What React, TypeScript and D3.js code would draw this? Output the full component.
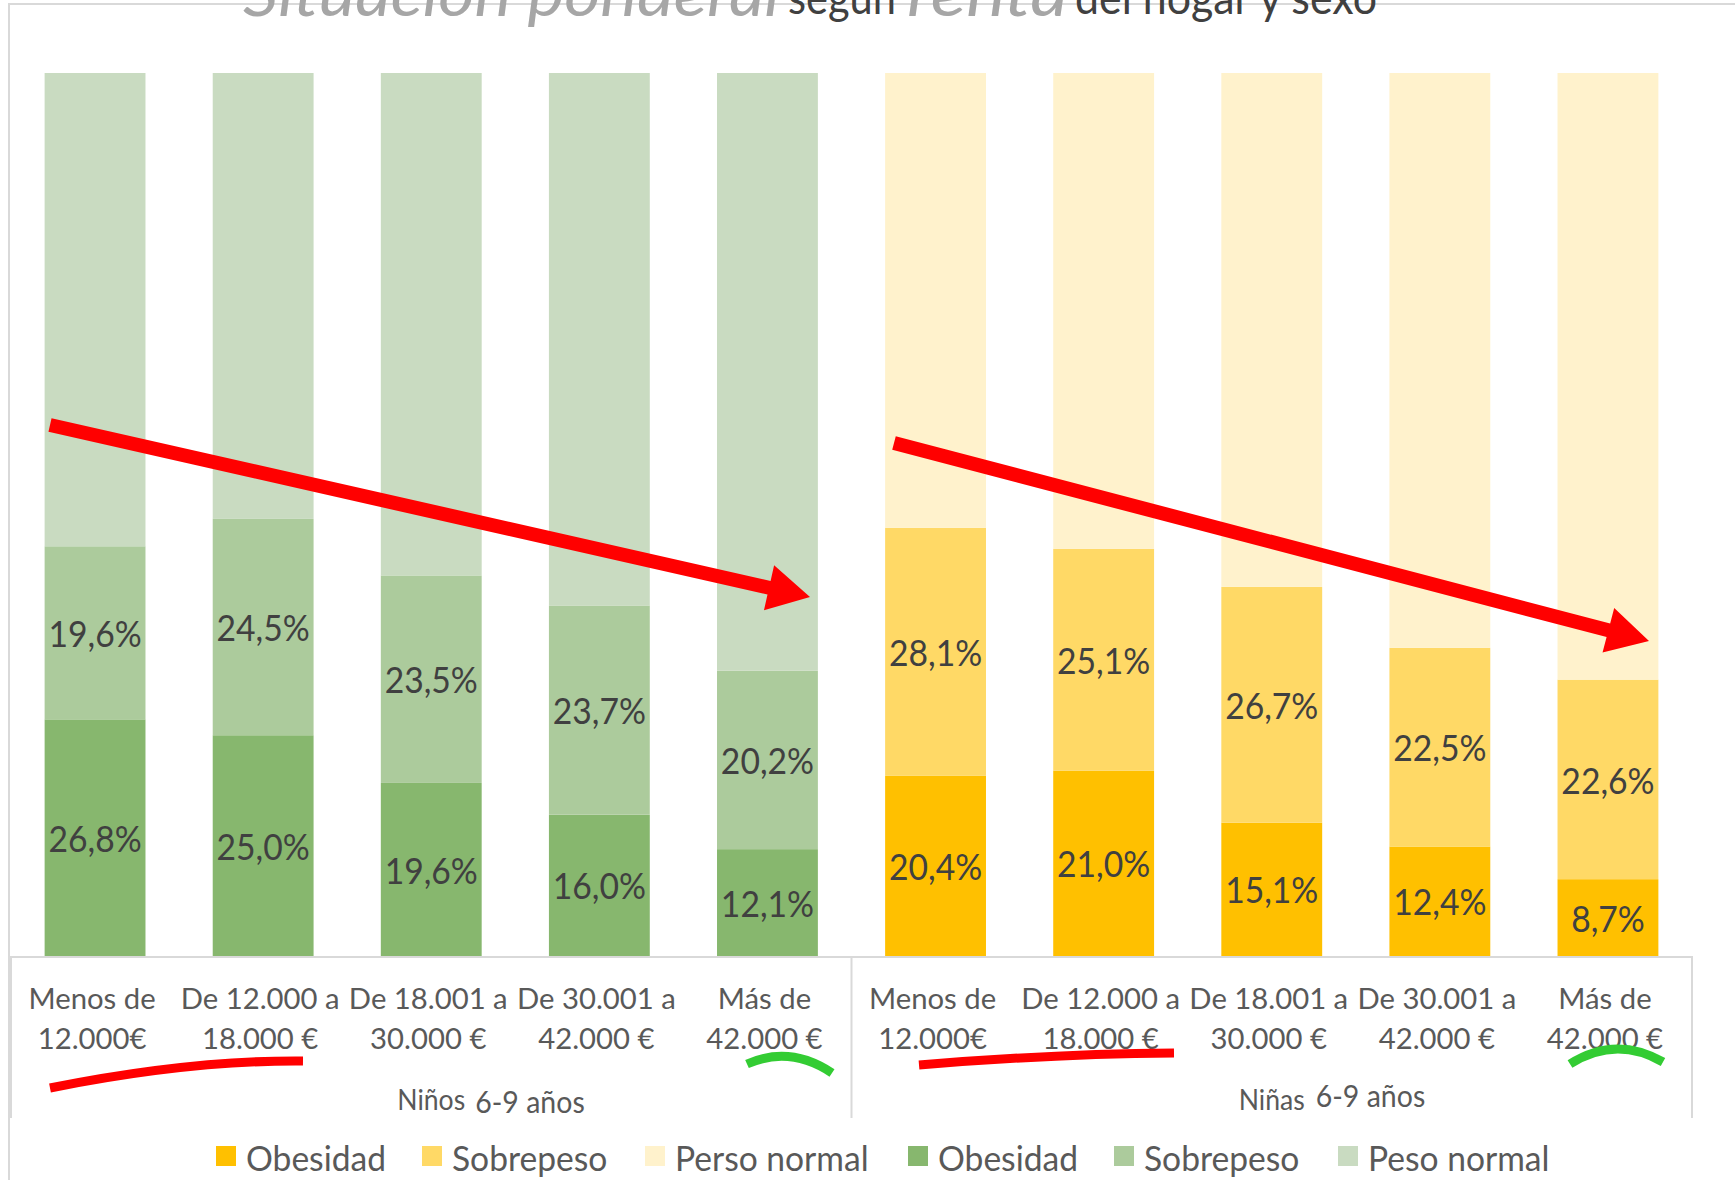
import React from "react";
import * as d3 from "d3";

const W = 1735;
const H = 1180;

const incomeLine1 = ["Menos de", "De 12.000 a", "De 18.001 a", "De 30.001 a", "Más de"];
const incomeLine2 = ["12.000€", "18.000 €", "30.000 €", "42.000 €", "42.000 €"];
const groups = ["Niños", "Niñas"];
const groupSuffix = "6-9 años";

const ninosObesidad = [26.8, 25.0, 19.6, 16.0, 12.1];
const ninosSobrepeso = [19.6, 24.5, 23.5, 23.7, 20.2];
const ninasObesidad = [20.4, 21.0, 15.1, 12.4, 8.7];
const ninasSobrepeso = [28.1, 25.1, 26.7, 22.5, 22.6];

const greenColors = ["#87b76e", "#accb9c", "#c9dbc1"];
const yellowColors = ["#ffc000", "#ffd966", "#fff2cc"];

const legendItems = [
  { label: "Obesidad", color: yellowColors[0] },
  { label: "Sobrepeso", color: yellowColors[1] },
  { label: "Perso normal", color: yellowColors[2] },
  { label: "Obesidad", color: greenColors[0] },
  { label: "Sobrepeso", color: greenColors[1] },
  { label: "Peso normal", color: greenColors[2] },
];
const legendX = [216, 422, 645, 908, 1114, 1338];

const FONT = "Lato, 'Open Sans', sans-serif";

function fmt(v: number) {
  return v.toFixed(1).replace(".", ",") + "%";
}

function arrowPath(x0: number, y0: number, x1: number, y1: number, sw: number, hl: number, hw: number) {
  const dx = x1 - x0, dy = y1 - y0;
  const len = Math.hypot(dx, dy);
  const ux = dx / len, uy = dy / len;
  const px = -uy, py = ux;
  const bx = x1 - ux * hl, by = y1 - uy * hl;
  const pts = [
    [x0 + px * sw / 2, y0 + py * sw / 2],
    [bx + px * sw / 2, by + py * sw / 2],
    [bx + px * hw / 2, by + py * hw / 2],
    [x1, y1],
    [bx - px * hw / 2, by - py * hw / 2],
    [bx - px * sw / 2, by - py * sw / 2],
    [x0 - px * sw / 2, y0 - py * sw / 2],
  ];
  return "M" + pts.map((p) => p.join(",")).join("L") + "Z";
}

function T({ x, y, sx = 1, children, ...rest }: any) {
  return (
    <text transform={`translate(${x},${y}) scale(${sx},1)`} {...rest}>
      {children}
    </text>
  );
}

export default function App() {
  const left = 11, right = 1692, top = 73, bottom = 956;
  const rows = [
    ...ninosObesidad.map((o, i) => ({ key: `n${i}`, g: 0, i, obes: o, sobre: ninosSobrepeso[i], colors: greenColors })),
    ...ninasObesidad.map((o, i) => ({ key: `a${i}`, g: 1, i, obes: o, sobre: ninasSobrepeso[i], colors: yellowColors })),
  ];
  const x = d3.scaleBand<string>().domain(rows.map((r) => r.key)).range([left, right]).paddingInner(0.4).paddingOuter(0.2);
  const y = d3.scaleLinear().domain([0, 100]).range([bottom, top]);
  const step = x.step();
  const groupEdges = [left, left + step * 5, right];

  return (
    <svg width={W} height={H} style={{ position: "absolute", left: 0, top: 0, background: "#fff" }} fontFamily={FONT}>
      <rect x={0} y={0} width={W} height={H} fill="#fff" />
      {/* chart border */}
      <rect x={9} y={4} width={W + 20} height={H + 20} fill="none" stroke="#d9d9d9" strokeWidth={2} />

      {/* title (partially cut off at top, as in the reference) */}
      <g>
        <text x={243} y={16} fontSize={62} fontStyle="italic" fill="#a6a6a6" textLength={537} lengthAdjust="spacingAndGlyphs">Situación ponderal</text>
        <text x={788} y={14} fontSize={46} fill="#404040" textLength={108} lengthAdjust="spacingAndGlyphs">según</text>
        <text x={907} y={16} fontSize={62} fontStyle="italic" fill="#a6a6a6" textLength={161} lengthAdjust="spacingAndGlyphs">renta</text>
        <text x={1075} y={14} fontSize={46} fill="#404040" textLength={302} lengthAdjust="spacingAndGlyphs">del hogar y sexo</text>
      </g>

      {/* bars */}
      {rows.map((r) => {
        const x0 = x(r.key)!;
        const bw = x.bandwidth();
        const segs = [
          { v0: 0, v1: r.obes, c: r.colors[0], label: fmt(r.obes) },
          { v0: r.obes, v1: r.obes + r.sobre, c: r.colors[1], label: fmt(r.sobre) },
          { v0: r.obes + r.sobre, v1: 100, c: r.colors[2], label: null },
        ];
        return (
          <g key={r.key}>
            {segs.map((s, k) => (
              <rect key={k} x={x0} y={y(s.v1)} width={bw} height={y(s.v0) - y(s.v1)} fill={s.c} />
            ))}
            {segs.map((s, k) =>
              s.label ? (
                <T key={"l" + k} x={x0 + bw / 2} y={(y(s.v0) + y(s.v1)) / 2} sx={0.91} textAnchor="middle" dominantBaseline="central" fontSize={37} fill="#404040">
                  {s.label}
                </T>
              ) : null
            )}
          </g>
        );
      })}

      {/* category axis box */}
      <g stroke="#d9d9d9" strokeWidth={2}>
        <line x1={left} x2={right} y1={bottom + 1} y2={bottom + 1} />
        {groupEdges.map((gx, k) => (
          <line key={k} x1={gx} x2={gx} y1={bottom} y2={1118} />
        ))}
      </g>
      {rows.map((r) => {
        const cx = x(r.key)! + x.bandwidth() / 2;
        return (
          <g key={"c" + r.key} fill="#595959" fontSize={29}>
            <T x={cx - 3} y={998} sx={1.01} textAnchor="middle" dominantBaseline="central">{incomeLine1[r.i]}</T>
            <T x={cx - 3} y={1038} sx={1.01} textAnchor="middle" dominantBaseline="central">{incomeLine2[r.i]}</T>
          </g>
        );
      })}
      {groups.map((g, k) => {
        const cx = (groupEdges[k] + groupEdges[k + 1]) / 2;
        return (
          <g key={g} fill="#595959">
            <T x={cx} y={1099} sx={0.95} textAnchor="middle" dominantBaseline="central" fontSize={28}>{g}</T>
            <T x={cx + 44} y={k === 0 ? 1101 : 1095} sx={0.95} textAnchor="start" dominantBaseline="central" fontSize={30}>{groupSuffix}</T>
          </g>
        );
      })}

      {/* legend */}
      {legendItems.map((it, k) => (
        <g key={k}>
          <rect x={legendX[k]} y={1146} width={20} height={20} fill={it.color} />
          <T x={legendX[k] + 30} y={1157} sx={0.96} dominantBaseline="central" fontSize={35} fill="#595959">{it.label}</T>
        </g>
      ))}

      {/* annotations */}
      <path d={arrowPath(50, 425, 810, 597, 14, 42, 46)} fill="#ff0000" />
      <path d={arrowPath(894, 443, 1649, 641, 14, 42, 46)} fill="#ff0000" />
      <g fill="none" strokeWidth={9} strokeLinecap="butt">
        <path d="M50,1088 Q190,1060 303,1061" stroke="#ff0000" />
        <path d="M919,1065 Q1050,1054 1174,1053" stroke="#ff0000" />
        <path d="M747,1064 Q790,1045 832,1073" stroke="#33cc33" />
        <path d="M1570,1064 Q1616,1035 1663,1062" stroke="#33cc33" />
      </g>
    </svg>
  );
}
